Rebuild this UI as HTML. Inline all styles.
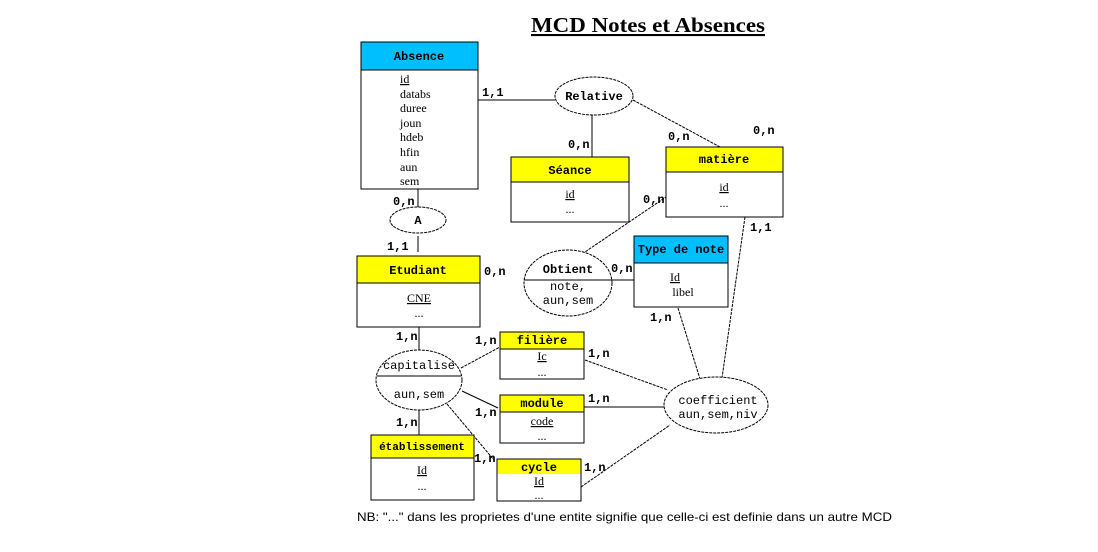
<!DOCTYPE html>
<html><head><meta charset="utf-8"><style>
body{margin:0;background:#fff;}
svg{display:block}
text{font-family:"Liberation Mono",monospace;font-size:12px;fill:#000}
.b{font-weight:bold}
.s{font-family:"Liberation Serif",serif;font-size:12px}
</style></head><body>
<svg width="1098" height="552" viewBox="0 0 1098 552" xmlns="http://www.w3.org/2000/svg">
<g stroke="#000" stroke-width="1" fill="none">
<line x1="478" y1="100" x2="555" y2="100"/>
<line x1="592" y1="115" x2="592" y2="157"/>
<line x1="633" y1="100" x2="720" y2="147" stroke-dasharray="3,1"/>
<line x1="418" y1="189" x2="418" y2="207"/>
<line x1="418" y1="236" x2="418" y2="252"/>
<line x1="582" y1="254" x2="666" y2="197" stroke-dasharray="3,1"/>
<line x1="612" y1="280" x2="636" y2="280"/>
<line x1="678" y1="308" x2="700" y2="379" stroke-dasharray="3,1"/>
<line x1="745" y1="217" x2="722" y2="378" stroke-dasharray="3,1"/>
<line x1="419" y1="327" x2="419" y2="350"/>
<line x1="461" y1="368" x2="500" y2="347" stroke-dasharray="3,1"/>
<line x1="585" y1="360" x2="668" y2="390" stroke-dasharray="3,1"/>
<line x1="462" y1="391" x2="498" y2="408"/>
<line x1="584" y1="407" x2="664" y2="407"/>
<line x1="447" y1="404" x2="494" y2="460" stroke-dasharray="3,1"/>
<line x1="581" y1="487" x2="670" y2="425" stroke-dasharray="3,1"/>
<line x1="419" y1="410" x2="419" y2="435"/>
<ellipse cx="594" cy="96" rx="39" ry="19" stroke-dasharray="3,1" fill="#fff"/>
<ellipse cx="418" cy="220" rx="28" ry="13" stroke-dasharray="3,1" fill="#fff"/>
<ellipse cx="568" cy="283" rx="44" ry="33" stroke-dasharray="3,1" fill="#fff"/>
<line x1="524" y1="280" x2="612" y2="280"/>
<ellipse cx="419" cy="380" rx="43" ry="30" stroke-dasharray="3,1" fill="#fff"/>
<line x1="377" y1="376" x2="461" y2="376"/>
<ellipse cx="716" cy="405" rx="52" ry="28" stroke-dasharray="3,1" fill="#fff"/>
</g>
<g stroke="#000" stroke-width="1">
<rect x="361" y="42" width="117" height="28" fill="#00bfff"/>
<rect x="361" y="70" width="117" height="119" fill="#fff"/>
<rect x="511" y="157" width="118" height="25" fill="#ffff00"/>
<rect x="511" y="182" width="118" height="40" fill="#fff"/>
<rect x="666" y="147" width="117" height="25" fill="#ffff00"/>
<rect x="666" y="172" width="117" height="45" fill="#fff"/>
<rect x="357" y="256" width="123" height="27" fill="#ffff00"/>
<rect x="357" y="283" width="123" height="44" fill="#fff"/>
<rect x="634" y="236" width="94" height="27" fill="#00bfff"/>
<rect x="634" y="263" width="94" height="44" fill="#fff"/>
<rect x="500" y="332" width="84" height="17" fill="#ffff00"/>
<rect x="500" y="349" width="84" height="30" fill="#fff"/>
<rect x="500" y="395" width="84" height="17" fill="#ffff00"/>
<rect x="500" y="412" width="84" height="31" fill="#fff"/>
<rect x="497" y="459" width="84" height="15" fill="#ffff00" stroke="none"/>
<rect x="497" y="459" width="84" height="42" fill="none"/>
<rect x="371" y="435" width="103" height="23" fill="#ffff00"/>
<rect x="371" y="458" width="103" height="42" fill="#fff"/>
</g>
<text x="531" y="32" textLength="234" lengthAdjust="spacingAndGlyphs" class="b" style="font-family:'Liberation Serif',serif;font-size:21px;text-decoration:underline">MCD Notes et Absences</text>
<text x="419" y="60" text-anchor="middle" class="b">Absence</text>
<g class="s">
<text x="400" y="83" text-decoration="underline" class="s">id</text>
<text x="400" y="98" class="s">databs</text>
<text x="400" y="112" class="s">duree</text>
<text x="400" y="127" class="s">joun</text>
<text x="400" y="141" class="s">hdeb</text>
<text x="400" y="156" class="s">hfin</text>
<text x="400" y="171" class="s">aun</text>
<text x="400" y="185" class="s">sem</text>
</g>
<text x="594" y="100" text-anchor="middle" class="b">Relative</text>
<text x="570" y="174" text-anchor="middle" class="b">Séance</text>
<text x="570" y="198" text-anchor="middle" class="s" text-decoration="underline">id</text>
<text x="570" y="213" text-anchor="middle" class="s">...</text>
<text x="724" y="163" text-anchor="middle" class="b">matière</text>
<text x="724" y="191" text-anchor="middle" class="s" text-decoration="underline">id</text>
<text x="724" y="207" text-anchor="middle" class="s">...</text>
<text x="418" y="224" text-anchor="middle" class="b">A</text>
<text x="418" y="274" text-anchor="middle" class="b">Etudiant</text>
<text x="419" y="302" text-anchor="middle" class="s" text-decoration="underline">CNE</text>
<text x="419" y="317" text-anchor="middle" class="s">...</text>
<text x="568" y="273" text-anchor="middle" class="b">Obtient</text>
<text x="568" y="290" text-anchor="middle">note,</text>
<text x="568" y="304" text-anchor="middle">aun,sem</text>
<text x="681" y="253" text-anchor="middle" class="b">Type de note</text>
<text x="675" y="281" text-anchor="middle" class="s" text-decoration="underline">Id</text>
<text x="683" y="296" text-anchor="middle" class="s">libel</text>
<text x="419" y="369" text-anchor="middle">capitalise</text>
<text x="419" y="398" text-anchor="middle">aun,sem</text>
<text x="542" y="344" text-anchor="middle" class="b">filière</text>
<text x="542" y="360" text-anchor="middle" class="s" text-decoration="underline">Ic</text>
<text x="542" y="376" text-anchor="middle" class="s">...</text>
<text x="542" y="407" text-anchor="middle" class="b">module</text>
<text x="542" y="425" text-anchor="middle" class="s" text-decoration="underline">code</text>
<text x="542" y="440" text-anchor="middle" class="s">...</text>
<text x="539" y="471" text-anchor="middle" class="b">cycle</text>
<text x="539" y="485" text-anchor="middle" class="s" text-decoration="underline">Id</text>
<text x="539" y="499" text-anchor="middle" class="s">...</text>
<text x="422" y="450" text-anchor="middle" class="b" style="font-size:11px">établissement</text>
<text x="422" y="474" text-anchor="middle" class="s" text-decoration="underline">Id</text>
<text x="422" y="490" text-anchor="middle" class="s">...</text>
<text x="718" y="404" text-anchor="middle">coefficient</text>
<text x="718" y="418" text-anchor="middle">aun,sem,niv</text>
<g class="b">
<text x="482" y="96" class="b">1,1</text>
<text x="568" y="148" class="b">0,n</text>
<text x="668" y="140" class="b">0,n</text>
<text x="753" y="134" class="b">0,n</text>
<text x="393" y="205" class="b">0,n</text>
<text x="387" y="250" class="b">1,1</text>
<text x="484" y="275" class="b">0,n</text>
<text x="643" y="203" class="b">0,n</text>
<text x="611" y="272" class="b">0,n</text>
<text x="750" y="231" class="b">1,1</text>
<text x="650" y="321" class="b">1,n</text>
<text x="396" y="340" class="b">1,n</text>
<text x="475" y="344" class="b">1,n</text>
<text x="588" y="357" class="b">1,n</text>
<text x="475" y="416" class="b">1,n</text>
<text x="588" y="402" class="b">1,n</text>
<text x="474" y="462" class="b">1,n</text>
<text x="584" y="471" class="b">1,n</text>
<text x="396" y="426" class="b">1,n</text>
</g>
<text x="357" y="521" textLength="535" lengthAdjust="spacingAndGlyphs" style="font-family:'Liberation Sans',sans-serif;font-size:12px">NB: "..." dans  les proprietes d'une entite signifie que celle-ci est definie dans un autre MCD</text>
</svg>
</body></html>
